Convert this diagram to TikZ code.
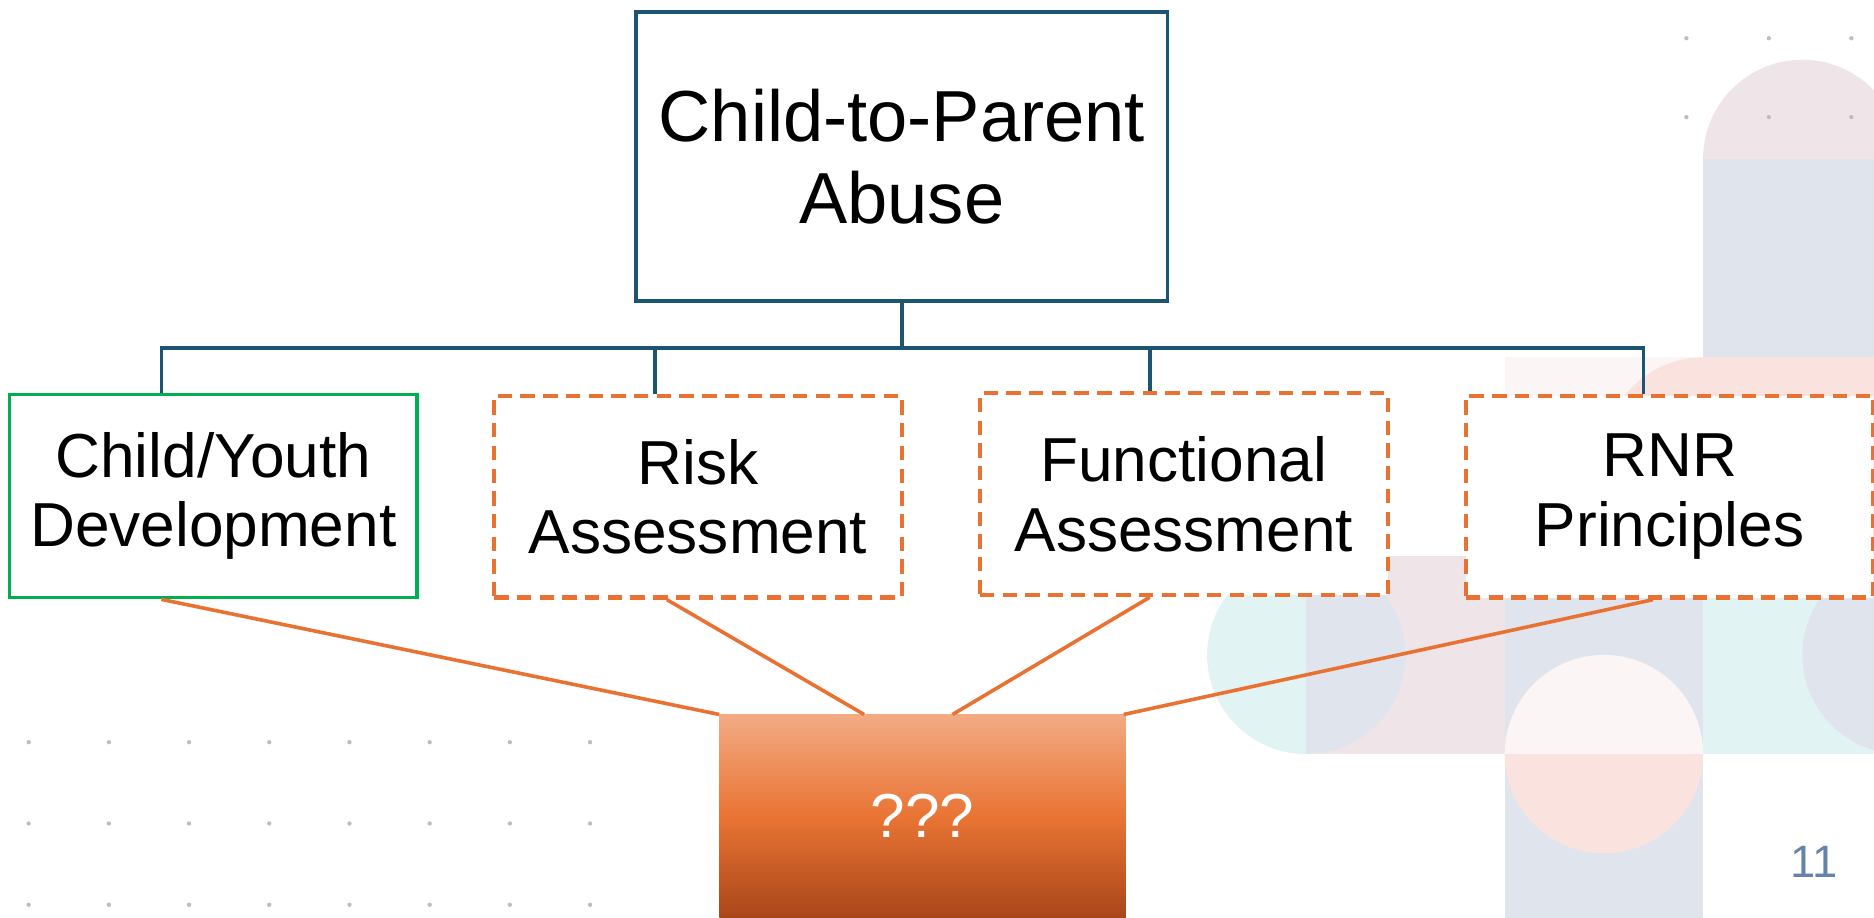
\documentclass[tikz,border=0pt]{standalone}
\usepackage{fontspec}
\setmainfont{Liberation Sans}
\usetikzlibrary{calc}
\definecolor{tealline}{HTML}{1B5571}
\definecolor{orangeline}{HTML}{E97132}
\definecolor{greenline}{HTML}{00B050}
\definecolor{bgpink}{HTML}{EFE4E8}
\definecolor{bgblue}{HTML}{E0E5ED}
\definecolor{bgteal}{HTML}{E2F3F3}
\definecolor{bgsalmon}{HTML}{FAE2DE}
\definecolor{bglight}{HTML}{FCF5F6}
\definecolor{dotgray}{HTML}{BDBDBD}
\definecolor{qtop}{HTML}{F2AB84}
\definecolor{qmid}{HTML}{E97434}
\definecolor{qbot}{HTML}{A9461A}
\definecolor{pagenumcol}{HTML}{6684AA}
\begin{document}
\begin{tikzpicture}[x=1pt,y=-1pt,
  topbox/.style={draw=tealline, line width=3pt, fill=white, minimum width=445pt, minimum height=242pt, inner sep=0pt, align=center, font=\fontsize{60.5}{68}\selectfont},
  greenbox/.style={draw=greenline, line width=3pt, fill=white, minimum width=341pt, minimum height=170pt, inner sep=0pt, align=center, font=\fontsize{52}{58}\selectfont},
  dashbox/.style={draw=orangeline, line width=3.5pt, dash pattern=on 12pt off 7pt, fill=white, minimum width=341pt, minimum height=169pt, inner sep=0pt, align=center, font=\fontsize{52}{58}\selectfont},
  qbox/.style={draw=none, top color=qtop, bottom color=qbot, middle color=qmid, minimum width=340pt, minimum height=170pt, inner sep=0pt, text=white, font=\fontsize{52}{58}\selectfont},
  tealconn/.style={draw=tealline, line width=3pt},
  orconn/.style={draw=orangeline, line width=3pt},
  pagenum/.style={text=pagenumcol, font=\fontsize{38}{44}\selectfont, inner sep=0pt}
]
\useasboundingbox (0,0) rectangle (1568,768);
\fill[white] (0,0) rectangle (1568,768);
% background tiles
\begin{scope}
\clip (0,0) rectangle (1568,768);
\begin{scope}\clip (1420,40) rectangle (1600,133); \fill[bgpink] (1508,133) circle[radius=83]; \end{scope}
\fill[bgblue] (1425,133) rectangle (1591,299);
\fill[bglight] (1259,299) rectangle (1425,465);
\fill[bgsalmon] (1425,299) rectangle (1591,465);
\begin{scope}\clip (1330,299) rectangle (1425,465); \fill[bgsalmon] (1425,382) circle[radius=83]; \end{scope}
\fill[bgpink] (1093,465) rectangle (1259,631);
\fill[bgblue] (1259,465) rectangle (1425,797);
\fill[bgteal] (1425,465) rectangle (1591,631);
\begin{scope}\clip (1000,460) rectangle (1093,640); \fill[bgteal] (1093,548) circle[radius=83]; \end{scope}
\begin{scope}\clip (1093,460) rectangle (1200,640); \fill[bgblue] (1093,548) circle[radius=83]; \end{scope}
\begin{scope}\clip (1250,540) rectangle (1435,631); \fill[bglight] (1342,631) circle[radius=83]; \end{scope}
\begin{scope}\clip (1250,631) rectangle (1435,725); \fill[bgsalmon] (1342,631) circle[radius=83]; \end{scope}
\fill[bgblue] (1591,548) circle[radius=83];
\end{scope}
% dots
\foreach \i in {0,...,7}
  \foreach \j in {621,689,757}
    \fill[dotgray] (24+67.1*\i,\j) circle[radius=1.8];
\foreach \i in {1411,1480,1549}
  \foreach \j in {32,98}
    \fill[dotgray] (\i,\j) circle[radius=1.8];
% nodes
\node[topbox] (top) at (754.5,131) {Child-to-Parent\\Abuse};
\node[greenbox] (cyd) at (178.5,415) {Child/Youth\\Development};
\node[dashbox] (risk) at (584,415.5) {Risk\\Assessment};
\node[dashbox] (func) at (990.5,413.5) {Functional\\Assessment};
\node[dashbox] (rnr) at (1397,415.5) {RNR\\Principles};
\node[qbox] (q) at (772,683) {???};
\node[pagenum] (pn) at (1518,721) {11};
% teal connectors
\coordinate (j) at (754.5,291);
\draw[tealconn] (top.south) -- (j);
\draw[tealconn] (j) -| ([xshift=-43.5pt]cyd.north);
\draw[tealconn] (j) -| ([xshift=-36pt]risk.north);
\draw[tealconn] (j) -| ([xshift=-28.5pt]func.north);
\draw[tealconn] (j) -| ([xshift=-22pt]rnr.north);
% orange connectors
\draw[orconn] ([xshift=-43.5pt]cyd.south) -- (q.north west);
\draw[orconn] ([xshift=-26pt]risk.south) -- ([xshift=-49pt]q.north);
\draw[orconn] ([xshift=-28.5pt]func.south) -- ([xshift=25pt]q.north);
\draw[orconn] ([xshift=-14pt]rnr.south) -- ([xshift=-2pt]q.north east);
\end{tikzpicture}
\end{document}
